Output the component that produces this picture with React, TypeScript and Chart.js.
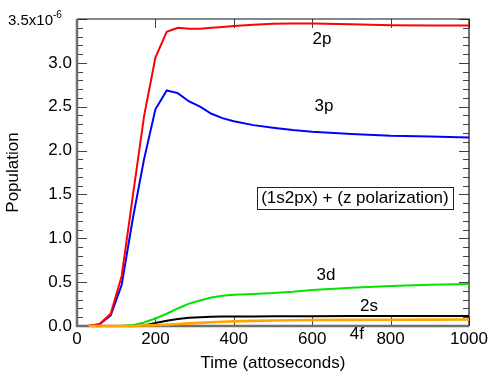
import React, { useEffect, useRef } from "react";
import { Chart, registerables } from "chart.js";

Chart.register(...registerables);

// Time grid (attoseconds)
const times = [29, 57, 86, 114, 143, 171, 200, 229, 257, 286, 314, 343, 371, 400, 450, 500, 550, 600, 700, 800, 900, 1000];

// Populations in units of 1e-6
const pop2p = [0, 0.02, 0.14, 0.57, 1.5, 2.39, 3.06, 3.355, 3.4, 3.39, 3.39, 3.4, 3.41, 3.42, 3.435, 3.445, 3.45, 3.45, 3.44, 3.43, 3.425, 3.425];
const pop3p = [0, 0.02, 0.12, 0.47, 1.24, 1.9, 2.47, 2.685, 2.655, 2.56, 2.5, 2.42, 2.37, 2.335, 2.29, 2.26, 2.235, 2.215, 2.19, 2.17, 2.16, 2.15];
const pop3d = [0, 0, 0, 0.003, 0.01, 0.04, 0.085, 0.14, 0.2, 0.255, 0.29, 0.325, 0.345, 0.355, 0.365, 0.375, 0.39, 0.41, 0.435, 0.455, 0.47, 0.48];
const pop2s = [0, 0, 0, 0, 0, 0.005, 0.035, 0.06, 0.08, 0.093, 0.1, 0.105, 0.107, 0.108, 0.109, 0.11, 0.111, 0.112, 0.113, 0.114, 0.115, 0.115];
const pop4f = [0, 0, 0, 0, 0, 0.005, 0.01, 0.015, 0.022, 0.03, 0.036, 0.042, 0.048, 0.053, 0.058, 0.062, 0.065, 0.068, 0.07, 0.072, 0.073, 0.074];

const xTicks = [0, 200, 400, 600, 800, 1000];
const yTicks = [0, 0.5, 1.0, 1.5, 2.0, 2.5, 3.0, 3.5];
const yTopLabel = "3.5x10";
const yTopExponent = "-6";
const xTitle = "Time (attoseconds)";
const yTitle = "Population";
const boxText = "(1s2px) + (z polarization)";

const FONT = '"Liberation Sans", Arial, Helvetica, sans-serif';

const toPts = (vals: number[]) => times.map((t, i) => ({ x: t, y: vals[i] }));

const framePlugin = {
  id: "frame",
  beforeDatasetsDraw(chart: any) {
    const { ctx, chartArea } = chart;
    const { left, right, top, bottom } = chartArea;
    const xs = chart.scales.x;
    const ys = chart.scales.y;
    ctx.save();
    ctx.strokeStyle = "#444";
    ctx.lineWidth = 1;
    // y ticks: minor every 0.1, major every 0.5
    for (let i = 0; i <= 35; i++) {
      const v = i / 10;
      const py = Math.round(ys.getPixelForValue(v)) + 0.5;
      const len = i % 5 === 0 ? 10 : 6;
      ctx.beginPath();
      ctx.moveTo(left, py);
      ctx.lineTo(left + len, py);
      ctx.moveTo(right, py);
      ctx.lineTo(right - len, py);
      ctx.stroke();
    }
    for (const t of xTicks) {
      const px = Math.round(xs.getPixelForValue(t)) + 0.5;
      ctx.beginPath();
      ctx.moveTo(px, bottom);
      ctx.lineTo(px, bottom - 9);
      ctx.moveTo(px, top);
      ctx.lineTo(px, top + 9);
      ctx.stroke();
    }
    // frame
    ctx.strokeStyle = "#111";
    ctx.lineWidth = 1.2;
    ctx.beginPath();
    ctx.moveTo(left, top);
    ctx.lineTo(right, top);
    ctx.lineTo(right, bottom);
    ctx.stroke();
    ctx.strokeStyle = "#6e6e6e";
    ctx.lineWidth = 2.5;
    ctx.beginPath();
    ctx.moveTo(left, top);
    ctx.lineTo(left, bottom);
    ctx.lineTo(right, bottom);
    ctx.stroke();
    ctx.restore();
  },
  afterDraw(chart: any) {
    const { ctx, chartArea } = chart;
    const xs = chart.scales.x;
    const ys = chart.scales.y;
    ctx.save();
    ctx.fillStyle = "#000";
    ctx.textBaseline = "middle";
    // top y label with exponent
    ctx.font = `15px ${FONT}`;
    ctx.textAlign = "right";
    const topY = ys.getPixelForValue(3.5);
    ctx.fillText(yTopLabel, 53, topY + 2);
    ctx.font = `10px ${FONT}`;
    ctx.textAlign = "left";
    ctx.fillText(yTopExponent, 53, topY - 4);
    // axis titles
    ctx.font = `17px ${FONT}`;
    ctx.textAlign = "center";
    ctx.fillText(xTitle, (chartArea.left + chartArea.right) / 2, 363);
    ctx.save();
    ctx.translate(13, (chartArea.top + chartArea.bottom) / 2);
    ctx.rotate(-Math.PI / 2);
    ctx.fillText(yTitle, 0, 0);
    ctx.restore();
    // curve labels
    const labels: [string, number, number][] = [
      ["2p", 625, 3.267],
      ["3p", 630, 2.503],
      ["3d", 635, 0.576],
      ["2s", 745, 0.219],
      ["4f", 714, -0.097],
    ];
    ctx.font = `17px ${FONT}`;
    for (const [s, t, v] of labels) {
      ctx.fillText(s, xs.getPixelForValue(t), ys.getPixelForValue(v));
    }
    // boxed annotation
    const cx = xs.getPixelForValue(709);
    const cy = ys.getPixelForValue(1.46);
    ctx.fillText(boxText, cx, cy);
    const w = ctx.measureText(boxText).width + 8;
    ctx.strokeStyle = "#222";
    ctx.lineWidth = 1;
    ctx.strokeRect(Math.round(cx - w / 2) + 0.5, Math.round(cy - 11) + 0.5, Math.round(w), 22);
    ctx.restore();
  },
};

export default function App() {
  const ref = useRef<HTMLCanvasElement>(null);
  useEffect(() => {
    document.body.style.margin = "0";
    const canvas = ref.current!;
    const chart = new Chart(canvas, {
      type: "line",
      data: {
        datasets: [
          { label: "4f", data: toPts(pop4f), borderColor: "#ffa500", borderWidth: 2.6 },
          { label: "2p", data: toPts(pop2p), borderColor: "#ff0000", borderWidth: 2 },
          { label: "3p", data: toPts(pop3p), borderColor: "#0000ff", borderWidth: 2 },
          { label: "3d", data: toPts(pop3d), borderColor: "#00e400", borderWidth: 2 },
          { label: "2s", data: toPts(pop2s), borderColor: "#000000", borderWidth: 2 },
        ].map((d) => ({ ...d, pointRadius: 0, tension: 0, fill: false, clip: false as any })),
      },
      options: {
        animation: false,
        responsive: false,
        layout: { padding: { top: 19, right: 19, left: 0, bottom: 0 } },
        plugins: { legend: { display: false }, tooltip: { enabled: false } },
        scales: {
          x: {
            type: "linear",
            min: 0,
            max: 1000,
            grid: { display: false, drawTicks: false },
            border: { display: false },
            afterBuildTicks: (s: any) => {
              s.ticks = xTicks.map((v) => ({ value: v }));
            },
            afterFit: (s: any) => {
              s.height = 48;
              s.paddingLeft = 0;
              s.paddingRight = 0;
            },
            ticks: {
              color: "#000",
              font: { family: FONT, size: 17 },
              padding: 3,
              maxRotation: 0,
              autoSkip: false,
              callback: (v: any) => String(v),
            },
          },
          y: {
            type: "linear",
            min: 0,
            max: 3.5,
            grid: { display: false, drawTicks: false },
            border: { display: false },
            afterBuildTicks: (s: any) => {
              s.ticks = yTicks.map((v) => ({ value: v }));
            },
            afterFit: (s: any) => {
              s.width = 77;
              s.paddingTop = 0;
              s.paddingBottom = 0;
            },
            ticks: {
              color: "#000",
              font: { family: FONT, size: 17 },
              padding: 5,
              autoSkip: false,
              callback: (v: any) => (Math.abs(v - 3.5) < 1e-9 ? "" : Number(v).toFixed(1)),
            },
          },
        },
      },
      plugins: [framePlugin],
    });
    return () => chart.destroy();
  }, []);
  return (
    <canvas
      ref={ref}
      width={488}
      height={374}
      style={{ display: "block", position: "absolute", left: 0, top: 0, width: 488, height: 374 }}
    />
  );
}
